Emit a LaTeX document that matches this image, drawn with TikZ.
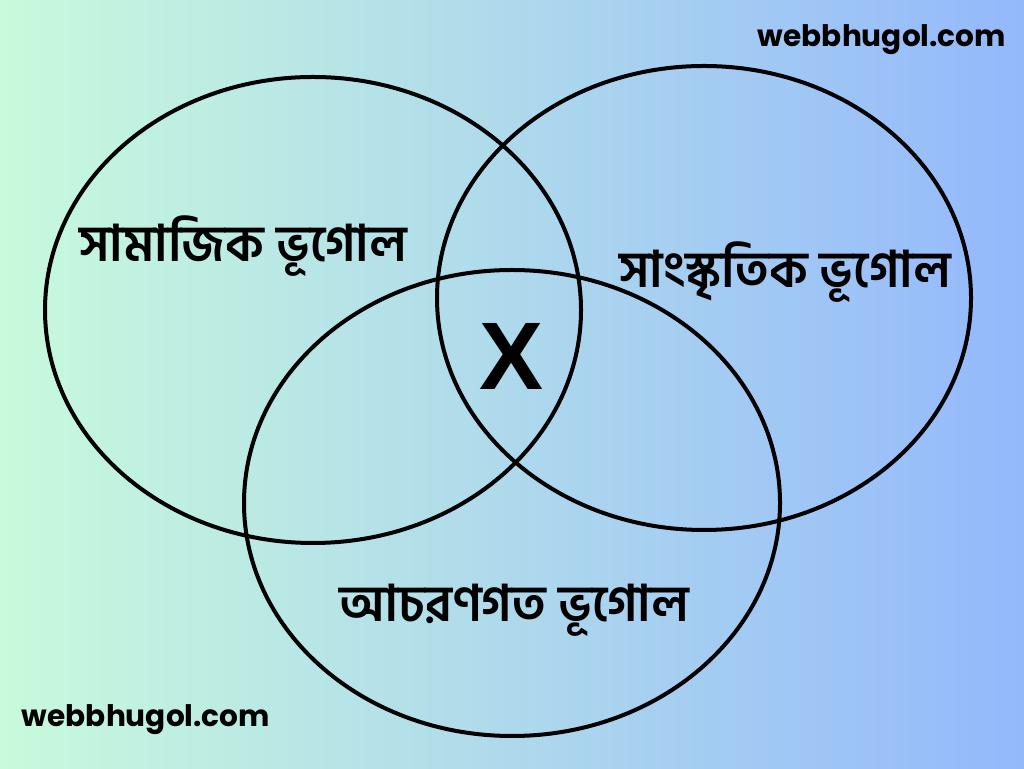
\documentclass[tikz,border=0pt]{standalone}
\usepackage{fontspec}
\setmainfont{Poppins}
\newfontfamily\bnfont[Script=Bengali]{Hind Siliguri}
\newfontfamily\xfont{Liberation Sans}
\definecolor{bgleft}{HTML}{C8FADC}
\definecolor{bgright}{HTML}{94B8FC}
\tikzset{
  ring/.style={line width=4pt, draw=black},
  label/.style={font=\bnfont\bfseries\fontsize{50.5}{54}\selectfont, inner sep=0pt},
  site/.style={font=\bfseries\fontsize{29.6}{32}\selectfont, inner sep=0pt}
}
\begin{document}
\begin{tikzpicture}[x=1pt,y=1pt]
	\shade[left color=bgleft, right color=bgright] (0,0) rectangle (1024,768);
	\useasboundingbox (0,0) rectangle (1024,768);
	% three circles
	\draw[ring] (313,458) ellipse (268 and 233);
	\draw[ring] (704,470) ellipse (267 and 232);
	\draw[ring] (512,265) ellipse (268 and 233);
	\node[label] (social) at (243,522) {সামাজিক ভূগোল};
	\node[label] (cultural) at (785,496) {সাংস্কৃতিক ভূগোল};
	\node[label] (behaviour) at (514,158) {আচরণগত ভূগোল};
	\node[font=\xfont\bfseries\fontsize{96}{96}\selectfont, inner sep=0pt] (cross) at (512,412) {X};
	\node[site] (webtop) at (882,728) {webbhugol.com};
	\node[site] (webbottom) at (146,48) {webbhugol.com};
\end{tikzpicture}
\end{document}
